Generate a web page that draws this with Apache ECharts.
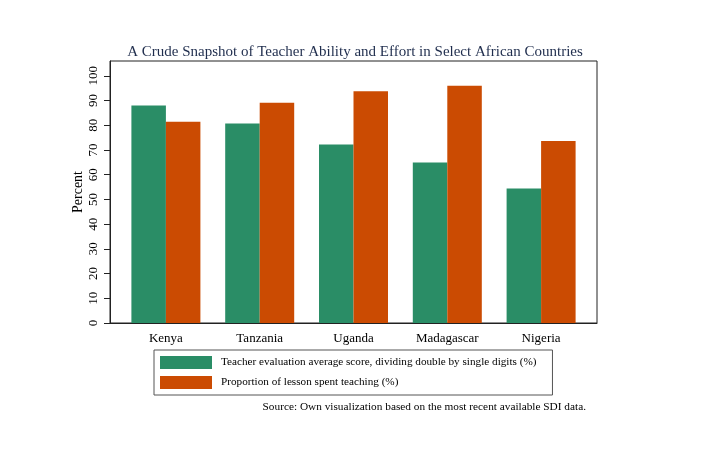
<!DOCTYPE html>
<html>
<head>
<meta charset="utf-8">
<script src="https://cdn.jsdelivr.net/npm/echarts@6/dist/echarts.min.js"></script>
<style>
  html, body { margin: 0; padding: 0; background: #fff; }
  #main { width: 717px; height: 450px; }
</style>
</head>
<body>
<div id="main"></div>
<script>
var countries = ['Kenya', 'Tanzania', 'Uganda', 'Madagascar', 'Nigeria'];
var evalScore = [88.0, 80.7, 72.2, 64.9, 54.4];     // teacher evaluation score (%)
var teachTime = [81.4, 89.1, 93.8, 96.0, 73.6];     // lesson time spent teaching (%)
var yTicks = [0, 10, 20, 30, 40, 50, 60, 70, 80, 90, 100];

var serif = 'Liberation Serif';
var myChart = echarts.init(document.getElementById('main'));

var option = {
    backgroundColor: '#fff',
    animation: false,
    title: {
        text: 'A Crude Snapshot of Teacher Ability and Effort in Select African Countries',
        left: 350,
        textAlign: 'center',
        top: 40,
        textStyle: { fontFamily: serif, fontSize: 15, fontWeight: 'normal', color: '#1f2d4d' }
    },
    grid: [
        // bars
        { left: 119, right: 129, top: 61, bottom: 127 },
        // frame + y axis
        { left: 110, right: 120, top: 61, bottom: 127, show: true, borderColor: '#222', borderWidth: 1 }
    ],
    xAxis: [
        {
            gridIndex: 0,
            type: 'category',
            data: countries,
            axisLine: { show: false },
            axisTick: { show: false },
            axisLabel: { margin: 9, fontFamily: serif, fontSize: 13, color: '#000' }
        },
        {
            gridIndex: 1,
            type: 'value',
            min: 0, max: 1,
            axisLine: { show: true, lineStyle: { color: '#222' } },
            axisTick: { show: false },
            axisLabel: { show: false },
            splitLine: { show: false }
        }
    ],
    yAxis: [
        { gridIndex: 0, type: 'value', min: 0, max: 106, show: false },
        {
            gridIndex: 1,
            type: 'value',
            min: 0, max: 106,
            name: 'Percent',
            nameLocation: 'middle',
            nameGap: 25,
            nameMoveOverlap: false,
            nameRotate: 90,
            nameTextStyle: { fontFamily: serif, fontSize: 14, color: '#000' },
            axisLine: { show: true, lineStyle: { color: '#222' } },
            axisTick: { show: true, length: 6, customValues: yTicks, lineStyle: { color: '#222' } },
            axisLabel: { rotate: 90, margin: 10, customValues: yTicks, fontFamily: serif, fontSize: 13, color: '#000' },
            splitLine: { show: false }
        }
    ],
    legend: {
        orient: 'vertical',
        left: 154,
        top: 350,
        icon: 'rect',
        itemWidth: 52,
        itemHeight: 13,
        itemGap: 7,
        padding: [6, 16, 6, 6],
        borderColor: '#555',
        borderWidth: 1,
        itemStyle: { borderWidth: 0 },
        textStyle: { fontFamily: serif, fontSize: 11.2, color: '#000', padding: [0, 0, 0, 4] },
        data: ['Teacher evaluation average score, dividing double by single digits (%)',
               'Proportion of lesson spent teaching (%)']
    },
    graphic: [{
        type: 'text',
        right: 131,
        top: 402,
        style: {
            text: 'Source: Own visualization based on the most recent available SDI data.',
            font: '11.3px "Liberation Serif"',
            fill: '#000'
        }
    }],
    series: [
        {
            name: 'Teacher evaluation average score, dividing double by single digits (%)',
            type: 'bar',
            xAxisIndex: 0, yAxisIndex: 0,
            barWidth: 34.5,
            barGap: '0%',
            itemStyle: { color: '#2a8d66' },
            data: evalScore
        },
        {
            name: 'Proportion of lesson spent teaching (%)',
            type: 'bar',
            xAxisIndex: 0, yAxisIndex: 0,
            barWidth: 34.5,
            barGap: '0%',
            itemStyle: { color: '#cb4b02' },
            data: teachTime
        }
    ]
};
myChart.setOption(option);
</script>
</body>
</html>
